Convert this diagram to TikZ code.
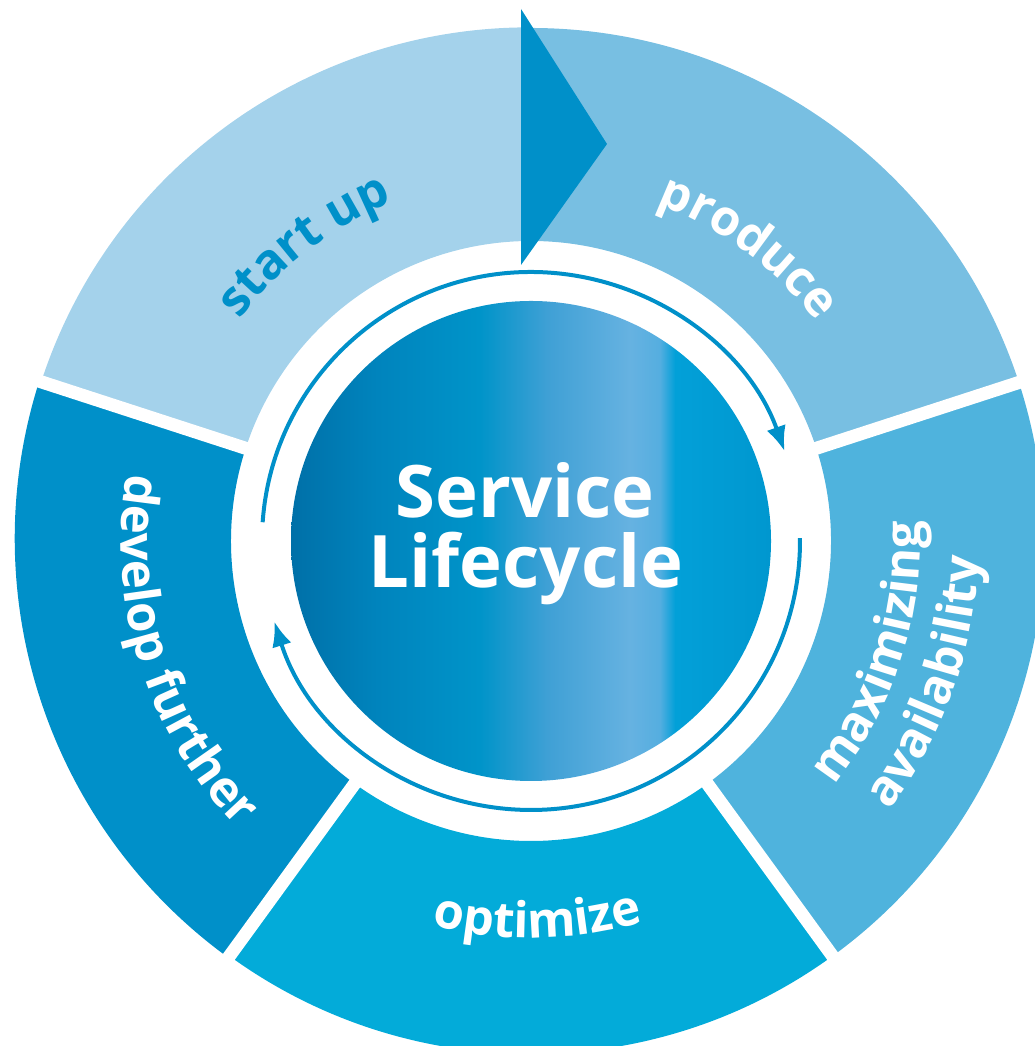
\documentclass[tikz,border=0pt]{standalone}
\usepackage{fontspec}
\setsansfont{Open Sans}
\usetikzlibrary{arrows.meta,decorations.text}
\definecolor{startcol}{HTML}{A4D2EB}
\definecolor{producecol}{HTML}{78BFE2}
\definecolor{maxcol}{HTML}{4FB3DD}
\definecolor{optcol}{HTML}{03ABD9}
\definecolor{devcol}{HTML}{0090C9}
\definecolor{ringcol}{HTML}{0090C9}
\definecolor{shA}{HTML}{0070A8}
\definecolor{shB}{HTML}{0084BD}
\definecolor{shC}{HTML}{0094C9}
\definecolor{shD}{HTML}{3FA0D5}
\definecolor{shE}{HTML}{66B2E1}
\definecolor{shF}{HTML}{55AEE0}
\definecolor{shG}{HTML}{02A0D8}
\definecolor{shH}{HTML}{0097CF}
\pgfdeclarehorizontalshading{lifeshade}{100bp}{color(0bp)=(shA); color(25bp)=(shA); color(34bp)=(shB); color(44.7bp)=(shC); color(51.7bp)=(shD); color(60.3bp)=(shE); color(63.4bp)=(shF); color(65bp)=(shG); color(75bp)=(shH); color(100bp)=(shH)}
\newcommand\labelfont{\fontsize{14pt}{16pt}\selectfont\sffamily\bfseries}
\newcommand\titlefont{\fontsize{20.6pt}{20pt}\selectfont\sffamily\bfseries}
\tikzset{>=latex,
  gapline/.style={white, line width=0.13cm},
  ringarrow/.style={draw=ringcol, line width=0.04cm, -{Latex[length=0.25cm,width=0.2cm]}},
  seglabel/.style={decorate, decoration={text along path, text align=center, text color=white}}
}

\begin{document}
\begin{tikzpicture}
            \useasboundingbox (-5.31,-5.05) rectangle (5.03,5.41);
            \fill[startcol] (90:3) arc[start angle=90, end angle=162, radius=3] -- (162:5.15) arc[start angle=162, end angle=90, radius=5.13] -- cycle;
            \fill[producecol] (18:3) arc[start angle=18, end angle=90, radius=3] -- (90:5.13) arc[start angle=90, end angle=18, radius=5.13] -- cycle;
            \fill[maxcol] (-54:3) arc[start angle=-54, end angle=18, radius=3] -- (18:5.13) arc[start angle=18, end angle=-54, radius=5.13] -- cycle;
            \fill[optcol] (-126:3) arc[start angle=-126, end angle=-54, radius=3] -- (-54:5.13) arc[start angle=-54, end angle=-126, radius=5.13] -- cycle;
            \fill[devcol] (162:3) arc[start angle=162, end angle=234, radius=3] -- (234:5.15) arc[start angle=234, end angle=162, radius=5.18] -- cycle;
            \draw[gapline] (18:2.9) -- (18:5.4);
            \draw[gapline] (162:2.9) -- (162:5.4);
            \draw[gapline] (234:2.9) -- (234:5.4);
            \draw[gapline] (306:2.9) -- (306:5.4);
            \fill[devcol] (-0.10,5.32) -- (0.76,3.97) -- (-0.10,2.76) -- cycle;
            \path[shading=lifeshade] (0,0) circle[radius=2.40];
            \draw[ringarrow] (176:2.69) arc[start angle=176, end angle=19.5, radius=2.69];
            \draw[ringarrow] (0.6:2.69) arc[start angle=0.6, end angle=-162.6, radius=2.69];
            \node[anchor=base, white, font=\titlefont] (title1) at (-0.06,0.23) {Service};
            \node[anchor=base, white, font=\titlefont] (title2) at (-0.05,-0.47) {Lifecycle};
            \path[seglabel, decoration={text color=devcol, text={|\labelfont|start up}}] (160:3.66) arc[start angle=160, end angle=95, radius=3.66];
            \path[seglabel, decoration={text={|\labelfont|produce}}] (85:3.60) arc[start angle=85, end angle=22, radius=3.60];
            \path[seglabel, decoration={text={|\labelfont|maximizing}}] (-55:3.89) arc[start angle=-55, end angle=19, radius=3.89];
            \path[seglabel, decoration={text={|\labelfont|availability}}] (-58:4.48) arc[start angle=-58, end angle=19, radius=4.48];
            \path[seglabel, decoration={text={|\labelfont|optimize}}] (236:3.97) arc[start angle=236, end angle=306, radius=3.97];
            \path[seglabel, decoration={text={|\labelfont|develop further}}] (160:4.10) arc[start angle=160, end angle=235, radius=4.10];
        \end{tikzpicture}
\end{document}
